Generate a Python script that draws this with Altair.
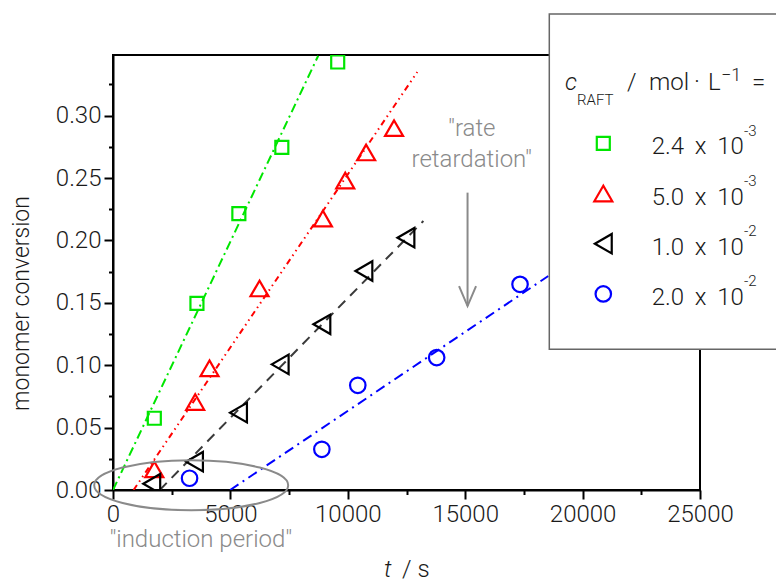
import altair as alt
import pandas as pd

# ---------------- data ----------------
series_labels = ["2.4\u00a0\u2009x\u00a0\u200910", "5.0\u00a0\u2009x\u00a0\u200910",
                 "1.0\u00a0\u2009x\u00a0\u200910", "2.0\u00a0\u2009x\u00a0\u200910"]
series_exp = ["-3", "-3", "-2", "-2"]
series_colors = ["#00e600", "#ff0000", "#000000", "#0000ff"]
line_colors = ["#00e600", "#ff0000", "#3a3a3a", "#0000ff"]
series_shapes = ["square", "triangle-up", "triangle-left", "circle"]
marker_sizes = [169, 324, 380, 240]
line_dashes = [[9, 4, 2, 4], [6, 4, 1.5, 4, 1.5, 4], [10, 7], [10, 5, 2, 5]]

t_green = [1760, 3575, 5360, 7190, 9570]
c_green = [0.0575, 0.1495, 0.2215, 0.2745, 0.343]
t_red = [1760, 3500, 4110, 6240, 8940, 9890, 10780, 11970]
c_red = [0.0165, 0.0705, 0.0975, 0.1615, 0.2175, 0.2480, 0.2705, 0.2900]
t_black = [1650, 3470, 5345, 7120, 8895, 10685, 12475]
c_black = [0.0050, 0.0227, 0.0620, 0.1007, 0.1328, 0.1755, 0.2022]
t_blue = [3260, 8895, 10425, 13785, 17335]
c_blue = [0.0094, 0.0326, 0.0839, 0.1061, 0.1648]
t_all = [t_green, t_red, t_black, t_blue]
c_all = [c_green, c_red, c_black, c_blue]

# fitted straight lines: start / end points
fit_t_start = [0, 877, 1990, 4990]
fit_c_start = [0.0, 0.0, 0.0, 0.0]
fit_t_end = [8740, 12960, 13220, 18540]
fit_c_end = [0.348, 0.335, 0.2156, 0.1715]

# annotations
ellipse_t, ellipse_c = 3330, 0.0038
arrow_t, arrow_c_top, arrow_c_tip = 15100, 0.2383, 0.1474
rate_t, rate_c1, rate_c2 = 15280, 0.2837, 0.2585
induction_t, induction_c = 3740, -0.0455

x_ticks = [0, 2500, 5000, 7500, 10000, 12500, 15000, 17500, 20000, 22500, 25000]
y_ticks = [0, 0.025, 0.05, 0.075, 0.1, 0.125, 0.15, 0.175, 0.2, 0.225, 0.25, 0.275, 0.3, 0.325]

FONT = "Roboto"
FW = 300
TXT = "#1a1a1a"
GRAY = "#8a8a8a"

X = alt.X("t:Q",
          scale=alt.Scale(domain=[0, 25000], nice=False, zero=False),
          axis=alt.Axis(values=x_ticks, grid=False, title=None,
                        labelExpr="datum.value % 5000 === 0 ? format(datum.value, 'd') : ''",
                        tickSize={"condition": {"test": "datum.value % 5000 === 0", "value": 9}, "value": 4.5},
                        tickWidth=2, tickColor="black", domainColor="black", domainWidth=2,
                        labelFont=FONT, labelFontWeight=FW, labelFontSize=24, labelColor=TXT,
                        labelPadding=3, labelFlush=False, labelOverlap=False, labelBound=False))
Y = alt.Y("c:Q",
          scale=alt.Scale(domain=[0, 0.3486], nice=False, zero=False),
          axis=alt.Axis(values=y_ticks, grid=False, title="monomer conversion",
                        labelExpr="round(datum.value*1000) % 50 === 0 ? format(datum.value, '.2f') : ''",
                        tickSize={"condition": {"test": "round(datum.value*1000) % 50 === 0", "value": 9}, "value": 4.5},
                        tickWidth=2, tickColor="black", domainColor="black", domainWidth=2,
                        labelFont=FONT, labelFontWeight=FW, labelFontSize=24, labelColor=TXT,
                        labelPadding=3, labelFlush=False, labelOverlap=False, labelBound=False,
                        titleFont=FONT, titleFontWeight=FW, titleFontSize=23, titleColor=TXT,
                        titleX=-85, titleY=248, titleAngle=270, titleBaseline="alphabetic",
                        titleAlign="center"))

layers = []
# fit lines
for i in range(4):
    df = pd.DataFrame({"t": [fit_t_start[i], fit_t_end[i]], "c": [fit_c_start[i], fit_c_end[i]]})
    layers.append(alt.Chart(df).mark_line(color=line_colors[i], strokeWidth=2,
                                          strokeDash=line_dashes[i], clip=True).encode(x=X, y=Y))
# markers
for i in range(4):
    df = pd.DataFrame({"t": t_all[i], "c": c_all[i]})
    layers.append(alt.Chart(df).mark_point(shape=series_shapes[i], color=series_colors[i],
                                           filled=False, strokeWidth=2.2, size=marker_sizes[i],
                                           opacity=1, clip=True).encode(x=X, y=Y))

# ellipse around the induction period
ell_path = "M-1,0A1,0.258,0,1,1,1,0A1,0.258,0,1,1,-1,0Z"
layers.append(alt.Chart(pd.DataFrame({"t": [ellipse_t], "c": [ellipse_c]})).mark_point(
    shape=ell_path, size=194 * 194, filled=False, color=GRAY, strokeWidth=2, opacity=1
).encode(x=X, y=Y))

# arrow
layers.append(alt.Chart(pd.DataFrame({"t": [arrow_t], "c": [arrow_c_top], "c2": [arrow_c_tip]})).mark_rule(
    color=GRAY, strokeWidth=2).encode(x=X, y=Y, y2="c2:Q"))
layers.append(alt.Chart(pd.DataFrame({"t": [arrow_t], "c": [arrow_c_tip + 10 / 1248]})).mark_point(
    shape="M-0.85,-1L0,1L0.85,-1", size=400, filled=False, color=GRAY, strokeWidth=2, opacity=1
).encode(x=X, y=Y))

# annotation texts
ann = pd.DataFrame({"t": [rate_t, rate_t, induction_t],
                    "c": [rate_c1, rate_c2, induction_c],
                    "txt": ["\"rate", "retardation\"", "\"induction period\""]})
layers.append(alt.Chart(ann).mark_text(font=FONT, fontWeight=FW, fontSize=24, color=GRAY,
                                       align="center", baseline="alphabetic").encode(
    x=X, y=Y, text="txt:N"))

one = alt.Data(values=[{"a": 1}])

# x axis title: t / s
layers.append(alt.Chart(one).mark_text(text="t", font=FONT, fontWeight=FW, fontStyle="italic",
                                       fontSize=24, color=TXT, align="left", baseline="alphabetic").encode(
    x=alt.value(271), y=alt.value(522)))
layers.append(alt.Chart(one).mark_text(text="/ s", font=FONT, fontWeight=FW,
                                       fontSize=24, color=TXT, align="left", baseline="alphabetic").encode(
    x=alt.value(289), y=alt.value(522)))

# legend box
layers.append(alt.Chart(one).mark_rect(fill="white", stroke="#666666", strokeWidth=1.5).encode(
    x=alt.value(436.3), x2=alt.value(720), y=alt.value(-41), y2=alt.value(294.3)))

# legend title: c_RAFT / mol . L^-1 =
def txt(s, x, y, size=24, style="normal", align="left"):
    return alt.Chart(one).mark_text(text=s, font=FONT, fontWeight=FW, fontStyle=style, fontSize=size,
                                    color=TXT, align=align, baseline="alphabetic").encode(
        x=alt.value(x), y=alt.value(y))

layers.append(txt("c", 452, 35, 24, "italic"))
layers.append(txt("RAFT", 464, 50, 15))
layers.append(txt("/", 514, 35, 24))
layers.append(txt("mol", 536, 35, 24))
layers.append(txt("\u00b7", 584, 35, 24, align="center"))
layers.append(txt("L", 595, 35, 24))
layers.append(txt("\u22121", 608, 26, 18))
layers.append(txt("=", 639, 35, 24))

# legend entries
for i in range(4):
    yc = 88.3 + 50.2 * i
    layers.append(alt.Chart(one).mark_point(shape=series_shapes[i], color=series_colors[i], filled=False,
                                            strokeWidth=2.2, size=marker_sizes[i], opacity=1).encode(
        x=alt.value(490.3), y=alt.value(yc)))
    layers.append(txt(series_labels[i], 538.7, yc + 11, 24))
    layers.append(txt(series_exp[i], 631, yc - 7.5, 15))

chart = alt.layer(*layers).properties(
    width=587, height=435,
    padding={"left": 105, "top": 47, "right": 76, "bottom": 92},
    autosize=alt.AutoSizeParams(type="none"),
    background="white",
).configure_view(stroke="black", strokeWidth=2)

chart.save("out.html", embed_options={"renderer": "svg", "actions": False})
